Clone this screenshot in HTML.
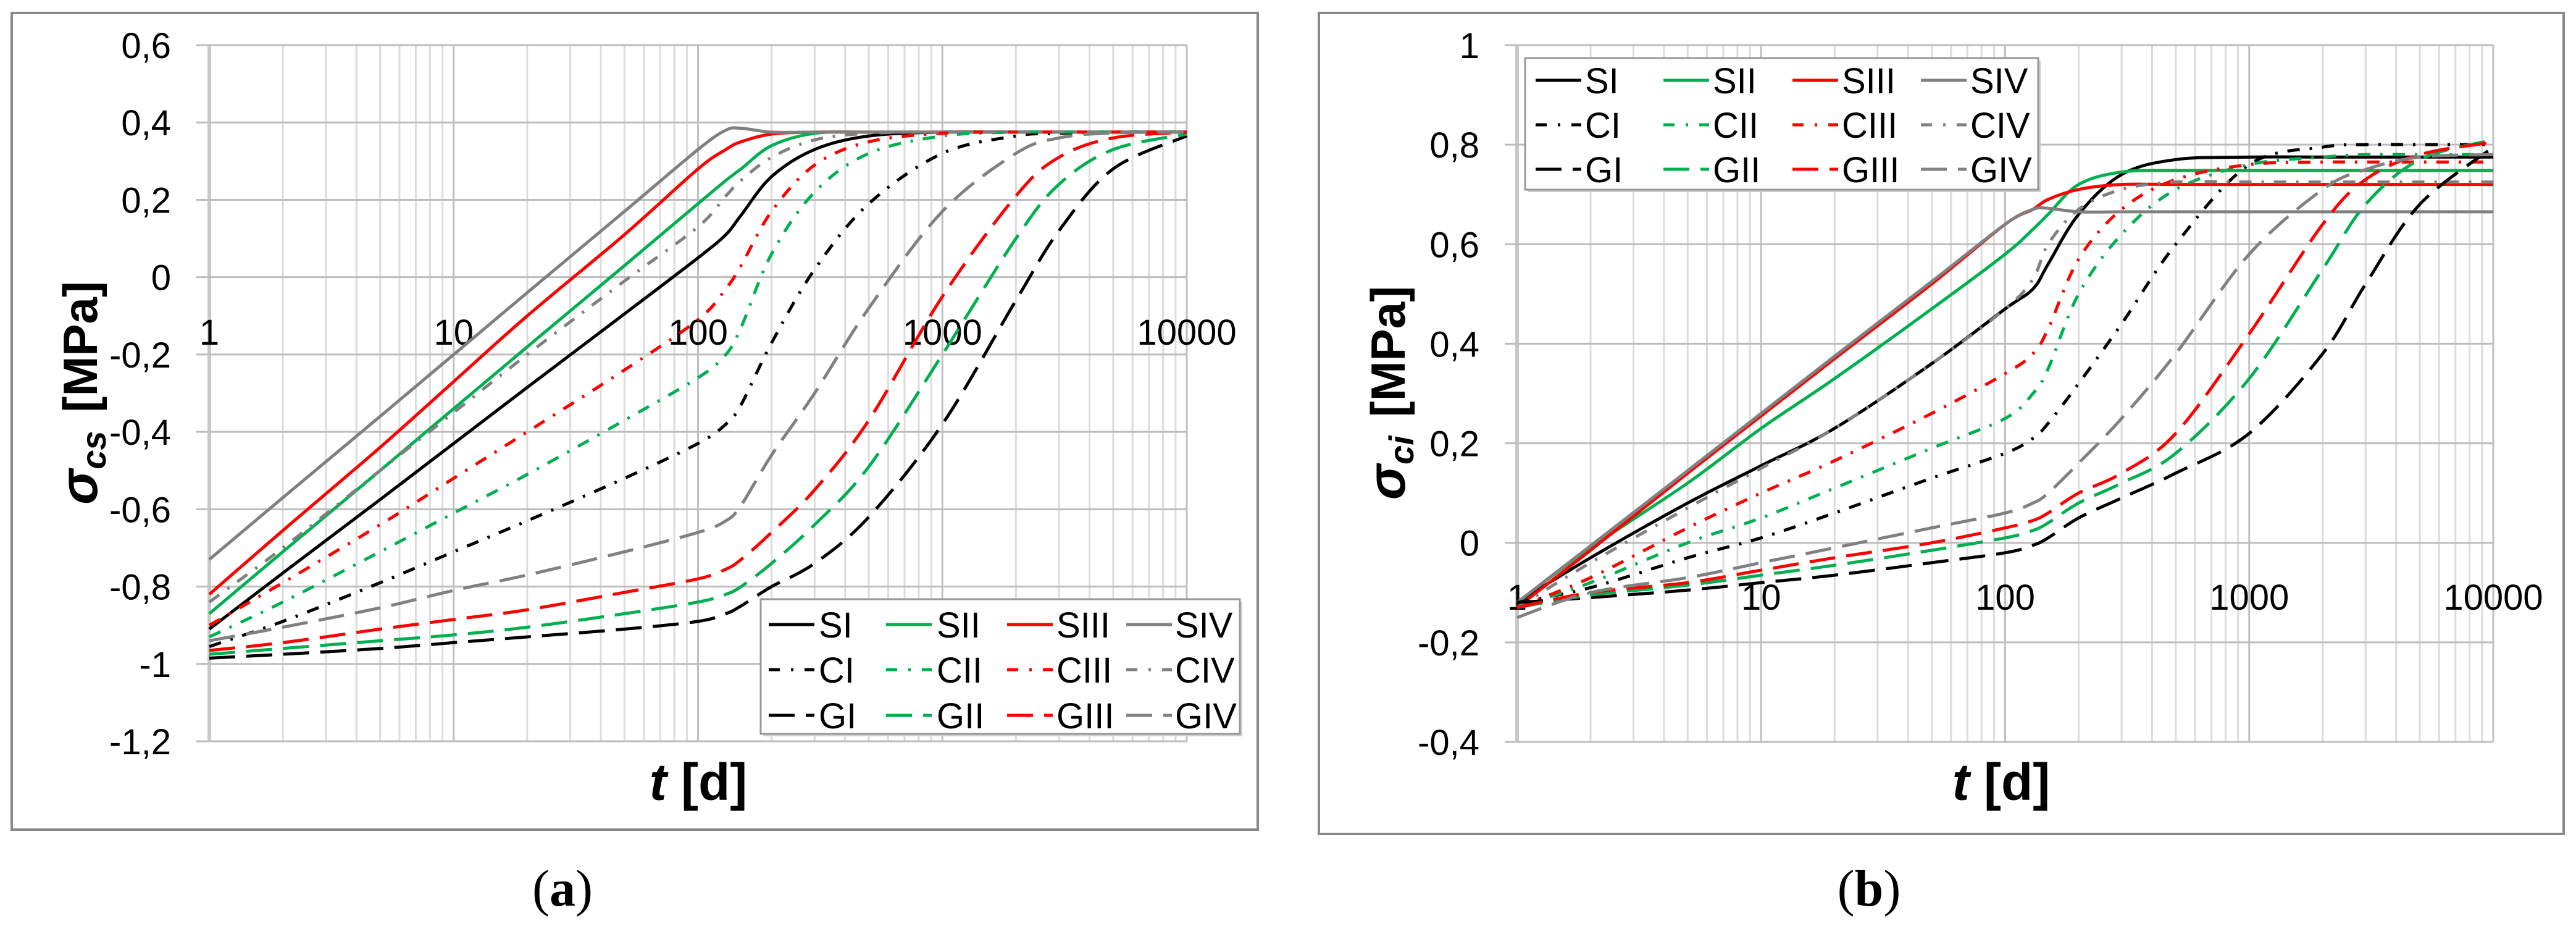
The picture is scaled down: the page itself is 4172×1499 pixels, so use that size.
<!DOCTYPE html>
<html><head><meta charset="utf-8"><style>
html,body{margin:0;padding:0;background:#fff;}
svg{display:block;}
text{font-family:"Liberation Sans",sans-serif;}
text.cap{font-family:"Liberation Serif",serif;}
</style></head><body>
<svg id="fig" width="4172" height="1499" viewBox="0 0 4172 1499" xmlns="http://www.w3.org/2000/svg">
<rect x="0" y="0" width="4172" height="1499" fill="#fff"/>
<g id="panelA"></g>
<g id="panelB"></g>
</svg>
<script>
const tVals = [1,2,5,10,20,50,100,130,150,200,300,500,1000,2000,3000,5000,10000];
const xTickLabels = ["1","10","100","1000","10000"];
const yTicksA = [0.6,0.4,0.2,0,-0.2,-0.4,-0.6,-0.8,-1,-1.2];
const yTicksB = [1,0.8,0.6,0.4,0.2,0,-0.2,-0.4];
const seriesNames = ["SI","SII","SIII","SIV","CI","CII","CIII","CIV","GI","GII","GIII","GIV"];

// Panel (a) sigma_cs
const aSI   = [-0.91,-0.765,-0.575,-0.43,-0.285,-0.095,0.05,0.11,0.16,0.26,0.33,0.365,0.375,0.375,0.375,0.375,0.375];
const aSII  = [-0.87,-0.71,-0.50,-0.34,-0.18,0.03,0.19,0.25,0.28,0.34,0.372,0.375,0.375,0.375,0.375,0.375,0.375];
const aSIII = [-0.82,-0.655,-0.44,-0.27,-0.10,0.11,0.28,0.33,0.35,0.37,0.375,0.375,0.375,0.375,0.375,0.375,0.375];
const aSIV  = [-0.73,-0.57,-0.36,-0.20,-0.04,0.17,0.33,0.38,0.385,0.375,0.375,0.375,0.375,0.375,0.375,0.375,0.375];
const aCI   = [-0.955,-0.89,-0.79,-0.71,-0.63,-0.52,-0.43,-0.38,-0.33,-0.17,0.02,0.19,0.32,0.365,0.372,0.375,0.375];
const aCII  = [-0.93,-0.84,-0.71,-0.61,-0.51,-0.37,-0.26,-0.2,-0.13,0.06,0.22,0.32,0.365,0.375,0.375,0.375,0.375];
const aCIII = [-0.90,-0.79,-0.64,-0.52,-0.40,-0.24,-0.11,-0.03,0.03,0.17,0.29,0.35,0.372,0.375,0.375,0.375,0.375];
const aCIV  = [-0.84,-0.70,-0.50,-0.35,-0.20,-0.01,0.13,0.21,0.25,0.31,0.355,0.372,0.375,0.375,0.375,0.375,0.375];
const aGI   = [-0.985,-0.975,-0.96,-0.945,-0.93,-0.91,-0.89,-0.87,-0.85,-0.80,-0.74,-0.62,-0.38,-0.06,0.12,0.28,0.365];
const aGII  = [-0.975,-0.96,-0.94,-0.925,-0.905,-0.87,-0.84,-0.82,-0.80,-0.74,-0.64,-0.49,-0.2,0.1,0.24,0.33,0.37];
const aGIII = [-0.965,-0.945,-0.91,-0.885,-0.86,-0.815,-0.78,-0.755,-0.73,-0.66,-0.55,-0.37,-0.05,0.21,0.31,0.36,0.375];
const aGIV  = [-0.94,-0.905,-0.855,-0.81,-0.77,-0.71,-0.66,-0.63,-0.59,-0.46,-0.30,-0.08,0.17,0.32,0.36,0.373,0.375];

// Panel (b) sigma_ci
const bSI   = [-0.12,-0.03,0.08,0.155,0.23,0.36,0.47,0.51,0.56,0.66,0.74,0.77,0.775,0.775,0.775,0.775,0.775];
const bSII  = [-0.12,-0.01,0.12,0.23,0.33,0.47,0.58,0.63,0.66,0.72,0.745,0.748,0.748,0.748,0.748,0.748,0.748];
const bSIII = [-0.13,-0.015,0.14,0.255,0.37,0.52,0.64,0.67,0.69,0.71,0.72,0.72,0.72,0.72,0.72,0.72,0.72];
const bSIV  = [-0.12,-0.006,0.145,0.26,0.375,0.525,0.64,0.67,0.672,0.665,0.665,0.665,0.665,0.665,0.665,0.665,0.665];
const bCI   = [-0.12,-0.09,-0.03,0.01,0.06,0.13,0.18,0.21,0.24,0.32,0.44,0.6,0.76,0.795,0.8,0.8,0.8];
const bCII  = [-0.13,-0.08,0.0,0.05,0.11,0.19,0.25,0.3,0.35,0.5,0.62,0.71,0.76,0.775,0.78,0.78,0.78];
const bCIII = [-0.13,-0.07,0.03,0.1,0.165,0.26,0.34,0.38,0.43,0.57,0.67,0.73,0.76,0.765,0.765,0.765,0.765];
const bCIV  = [-0.13,-0.04,0.07,0.15,0.23,0.36,0.47,0.53,0.6,0.67,0.71,0.725,0.725,0.725,0.725,0.725,0.725];
const bGI   = [-0.12,-0.11,-0.095,-0.08,-0.065,-0.04,-0.02,-0.005,0.01,0.05,0.09,0.14,0.22,0.38,0.52,0.68,0.795];
const bGII  = [-0.13,-0.105,-0.085,-0.065,-0.045,-0.015,0.01,0.025,0.04,0.08,0.12,0.18,0.33,0.55,0.68,0.77,0.81];
const bGIII = [-0.13,-0.1,-0.08,-0.055,-0.03,0.0,0.03,0.045,0.06,0.1,0.14,0.22,0.42,0.64,0.73,0.78,0.805];
const bGIV  = [-0.15,-0.1,-0.07,-0.04,-0.01,0.03,0.06,0.08,0.1,0.16,0.25,0.38,0.58,0.71,0.75,0.775,0.78];

const seriesA = [aSI,aSII,aSIII,aSIV,aCI,aCII,aCIII,aCIV,aGI,aGII,aGIII,aGIV];
const seriesB = [bSI,bSII,bSIII,bSIV,bCI,bCII,bCIII,bCIV,bGI,bGII,bGIII,bGIV];

const NS = "http://www.w3.org/2000/svg";
const colors = ["#000000","#00b050","#ff0000","#808080"];
const dashes = [null,"20 16 4 16","42 18"];

function mk(tag, attrs, parent){
  const e = document.createElementNS(NS, tag);
  for (const k in attrs) e.setAttribute(k, attrs[k]);
  parent.appendChild(e);
  return e;
}
function fmt(v){ return (Math.round(v*10)/10).toString().replace('.',','); }

function smoothPath(pts){
  let d = "M"+pts[0][0].toFixed(1)+","+pts[0][1].toFixed(1);
  for (let i=0;i<pts.length-1;i++){
    const p0=pts[Math.max(0,i-1)], p1=pts[i], p2=pts[i+1], p3=pts[Math.min(pts.length-1,i+2)];
    const c1x=p1[0]+(p2[0]-p0[0])/6, c1y=p1[1]+(p2[1]-p0[1])/6;
    const c2x=p2[0]-(p3[0]-p1[0])/6, c2y=p2[1]-(p3[1]-p1[1])/6;
    d += " C"+c1x.toFixed(1)+","+c1y.toFixed(1)+" "+c2x.toFixed(1)+","+c2y.toFixed(1)+" "+p2[0].toFixed(1)+","+p2[1].toFixed(1);
  }
  return d;
}

function drawPanel(g, cfg){
  const fr = mk("rect",{x:cfg.fx,y:cfg.fy,width:cfg.fw,height:cfg.fh,fill:"#fff",stroke:"#888",'stroke-width':4},g);
  
  
  const xs = t => cfg.x0 + (Math.log10(t))*(cfg.x1-cfg.x0)/4;
  const ys = v => cfg.yTop + (cfg.ymax - v)*(cfg.yBot-cfg.yTop)/(cfg.ymax-cfg.ymin);
  const grid = mk("g",{},g);
  
  
  for (let dec=0; dec<4; dec++){
    for (let m=2;m<=9;m++){
      const x = xs(m*Math.pow(10,dec));
      mk("line",{x1:x,y1:cfg.yTop,x2:x,y2:cfg.yBot,stroke:"#dcdcdc",'stroke-width':3},grid);
    }
  }
  for (let dec=0; dec<=4; dec++){
    const x = xs(Math.pow(10,dec));
    mk("line",{x1:x,y1:cfg.yTop,x2:x,y2:cfg.yBot,stroke:dec===0?"#c8c8c8":"#c0c0c0",'stroke-width':dec===0?6:3},grid);
  }
  cfg.yTicks.forEach(v=>{
    const y = ys(v);
    mk("line",{x1:cfg.plotLeft,y1:y,x2:cfg.x1,y2:y,stroke:"#bdbdbd",'stroke-width':3},grid);
    const tx = mk("text",{x:cfg.yLabelRight,y:y+21,'font-size':58,'text-anchor':'end',fill:"#000"},g);
    tx.textContent = fmt(v);
    
    
  });
  xTickLabels.forEach((lab,i)=>{
    const tx = mk("text",{x:xs(Math.pow(10,i)),y:cfg.xLabelY,'font-size':58,'text-anchor':'middle',fill:"#000"},g);
    tx.textContent = lab;
    
    
  });
  const sg = mk("g",{fill:"none"},g);
  
  
  cfg.series.forEach((vals,i)=>{
    const pts = tVals.map((t,j)=>[xs(t), ys(vals[j])]);
    const p = mk("path",{d:smoothPath(pts),stroke:colors[i%4],'stroke-width':5,fill:"none",'stroke-linejoin':'round'},sg);
    const dsh = dashes[Math.floor(i/4)];
    if (dsh) p.setAttribute('stroke-dasharray',dsh);
    
    
  });
  const lg = mk("g",{},g);
  
  
  mk("rect",{x:cfg.lx+4,y:cfg.ly+4,width:cfg.lw,height:cfg.lh,fill:"#d0d0d0"},lg);
  mk("rect",{x:cfg.lx,y:cfg.ly,width:cfg.lw,height:cfg.lh,fill:"#fff",stroke:"#999",'stroke-width':3},lg);
  for (let i=0;i<12;i++){
    const r = Math.floor(i/4), c = i%4;
    const y = cfg.lRows[r];
    const e = mk("g",{},lg);
    
    
    const ln = mk("line",{x1:cfg.lLine[c],y1:y,x2:cfg.lLine[c]+74,y2:y,stroke:colors[c],'stroke-width':5},e);
    if (dashes[r]) ln.setAttribute('stroke-dasharray', r===1 ? "18 18 4 18" : "42 18");
    const tx = mk("text",{x:cfg.lText[c],y:y+21,'font-size':58,fill:"#000"},e);
    tx.textContent = seriesNames[i];
  }
  const yt = mk("text",{transform:`translate(${cfg.ytx},${cfg.yty}) rotate(-90)`,'text-anchor':'middle','font-size':78,'font-weight':'bold',fill:"#000"},g);
  
  
  yt.innerHTML = `<tspan font-style="italic" font-size="86">σ</tspan><tspan font-style="italic" font-size="56" dy="14">${cfg.sub}</tspan><tspan dy="-14" dx="30">[MPa]</tspan>`;
  const xt = mk("text",{x:cfg.xtx,y:1295,'text-anchor':'middle','font-size':84,'font-weight':'bold',fill:"#000"},g);
  
  
  xt.innerHTML = `<tspan font-style="italic">t</tspan> [d]`;
  const cap = mk("text",{x:cfg.capx,y:1466,'text-anchor':'middle','font-size':84,fill:"#000",'class':'cap'},g);
  
  
  cap.innerHTML = `(<tspan font-weight="bold">${cfg.cap}</tspan>)`;
}

drawPanel(document.getElementById('panelA'), {
  fx:19,fy:21,fw:2018,fh:1322,
  x0:339,x1:1922,plotLeft:318,yTop:73,yBot:1200,ymax:0.6,ymin:-1.2,
  yTicks:yTicksA,yLabelRight:277,xLabelY:558,series:seriesA,
  lx:1232,ly:970,lw:776,lh:218,lRows:[1011,1084,1158],
  lLine:[1245,1435,1631,1824],lText:[1326,1517,1711,1903],
  ytx:157,yty:636,sub:"cs",xtx:1131,capx:911,cap:"a"
});
drawPanel(document.getElementById('panelB'), {
  fx:2136,fy:21,fw:2016,fh:1329,
  x0:2457,x1:4038,plotLeft:2437,yTop:73,yBot:1201,ymax:1,ymin:-0.4,
  yTicks:yTicksB,yLabelRight:2396,xLabelY:987,series:seriesB,
  lx:2470,ly:94,lw:831,lh:213,lRows:[130,202,274],
  lLine:[2487,2694,2903,3111],lText:[2567,2774,2983,3191],
  ytx:2275,yty:636,sub:"ci",xtx:3241,capx:3027,cap:"b"
});
</script>
</body></html>
